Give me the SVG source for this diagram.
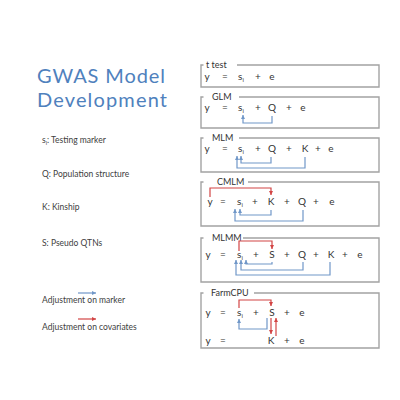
<svg xmlns="http://www.w3.org/2000/svg" width="400" height="400" viewBox="0 0 400 400">
<style>
.title{font-family:Lato,"Liberation Sans",sans-serif;font-size:20px;fill:#4f81bd}
.lbl{font-family:Lato,"Liberation Sans",sans-serif;font-size:8.5px;fill:#404040}
.bl{font-family:Lato,"Liberation Sans",sans-serif;font-size:9px;fill:#333}
.eq{font-family:Lato,"Liberation Sans",sans-serif;font-size:10px;fill:#333;text-anchor:middle}
.sub{font-size:6px}
.frame{fill:none;stroke:#a3a3a3;stroke-width:1.4}
.ba{fill:none;stroke:#7097c8;stroke-width:1.2}
.ra{fill:none;stroke:#d24545;stroke-width:1.2}
</style>
<defs>
<marker id="mb" viewBox="0 0 6 6" refX="6" refY="3" markerWidth="4" markerHeight="4" orient="auto" markerUnits="userSpaceOnUse"><path d="M0,0 L6,3 L0,6 z" fill="#7097c8"/></marker>
<marker id="mr" viewBox="0 0 6 6" refX="6" refY="3" markerWidth="4" markerHeight="4" orient="auto" markerUnits="userSpaceOnUse"><path d="M0,0 L6,3 L0,6 z" fill="#d24545"/></marker>
</defs>
<rect width="400" height="400" fill="#fff"/>

<g id="title">
<text class="title" x="37" y="83" textLength="128" lengthAdjust="spacing">GWAS Model</text>
<text class="title" x="37" y="107" textLength="130" lengthAdjust="spacing">Development</text>
</g>

<g id="legend-terms">
<text class="lbl" x="42" y="143">s<tspan font-size="5.5" dy="1.5">i</tspan><tspan dy="-1.5">: Testing marker</tspan></text>
<text class="lbl" x="42" y="177">Q: Population  structure</text>
<text class="lbl" x="42" y="210">K: Kinship</text>
<text class="lbl" x="42" y="246">S: Pseudo QTNs</text>
</g>

<g id="legend-arrows">
<text class="lbl" x="42" y="303">Adjustment on marker</text>
<text class="lbl" x="42" y="330">Adjustment on covariates</text>
</g>

<g id="box-ttest">
<path class="frame" d="M203.5,65 H201 V87 H379 V65 H237"/>
<text class="bl" x="206" y="67.5">t test</text>
<text class="eq" x="207" y="80">y</text><text class="eq" x="225" y="80">=</text>
<text class="eq" x="241" y="80">s<tspan class="sub" dy="2">i</tspan></text>
<text class="eq" x="258" y="80">+</text><text class="eq" x="272" y="80">e</text>
</g>

<g id="box-glm">
<path class="frame" d="M203.5,97 H201 V128 H379 V97 H239"/>
<text class="bl" x="212" y="99.5">GLM</text>
<text class="eq" x="207" y="111">y</text><text class="eq" x="225" y="111">=</text>
<text class="eq" x="241" y="111">s<tspan class="sub" dy="2">i</tspan></text>
<text class="eq" x="258" y="111">+</text><text class="eq" x="272" y="111">Q</text>
<text class="eq" x="289" y="111">+</text><text class="eq" x="303" y="111">e</text>
</g>

<g id="box-mlm">
<path class="frame" d="M203.5,138 H201 V172 H379 V138 H239"/>
<text class="bl" x="212" y="140.5">MLM</text>
<text class="eq" x="207" y="152">y</text><text class="eq" x="225" y="152">=</text>
<text class="eq" x="241" y="152">s<tspan class="sub" dy="2">i</tspan></text>
<text class="eq" x="258" y="152">+</text><text class="eq" x="272" y="152">Q</text>
<text class="eq" x="289" y="152">+</text><text class="eq" x="305" y="152">K</text>
<text class="eq" x="318" y="152">+</text><text class="eq" x="331" y="152">e</text>
</g>

<g id="box-cmlm">
<path class="frame" d="M203.5,182 H201 V226 H379 V182 H248"/>
<text class="bl" x="217" y="184.5">CMLM</text>
<text class="eq" x="210" y="205">y</text><text class="eq" x="223" y="205">=</text>
<text class="eq" x="240" y="205">s<tspan class="sub" dy="2">i</tspan></text>
<text class="eq" x="255" y="205">+</text><text class="eq" x="271" y="205">K</text>
<text class="eq" x="287" y="205">+</text><text class="eq" x="302" y="205">Q</text>
<text class="eq" x="316" y="205">+</text><text class="eq" x="332" y="205">e</text>
</g>

<g id="box-mlmm">
<path class="frame" d="M203.5,238 H201 V282 H379 V238 H243"/>
<text class="bl" x="212" y="240.5">MLMM</text>
<text class="eq" x="208" y="258">y</text><text class="eq" x="223" y="258">=</text>
<text class="eq" x="240" y="258">s<tspan class="sub" dy="2">i</tspan></text>
<text class="eq" x="256" y="258">+</text><text class="eq" x="272" y="258">S</text>
<text class="eq" x="287" y="258">+</text><text class="eq" x="302" y="258">Q</text>
<text class="eq" x="316" y="258">+</text><text class="eq" x="331" y="258">K</text>
<text class="eq" x="345" y="258">+</text><text class="eq" x="360" y="258">e</text>
</g>

<g id="box-farmcpu">
<path class="frame" d="M203.5,293 H201 V348 H379 V293 H254"/>
<text class="bl" x="211" y="295.5">FarmCPU</text>
<text class="eq" x="208" y="316">y</text><text class="eq" x="223" y="316">=</text>
<text class="eq" x="240" y="316">s<tspan class="sub" dy="2">i</tspan></text>
<text class="eq" x="256" y="316">+</text><text class="eq" x="272" y="316">S</text>
<text class="eq" x="287" y="316">+</text><text class="eq" x="302" y="316">e</text>
<text class="eq" x="208" y="344">y</text><text class="eq" x="223" y="344">=</text>
<text class="eq" x="271" y="344">K</text>
<text class="eq" x="287" y="344">+</text><text class="eq" x="302" y="344">e</text>
</g>

<g id="connectors">
<path class="ba" d="M78,293 H96" marker-end="url(#mb)"/>
<path class="ra" d="M78,319 H96" marker-end="url(#mr)"/>

<path class="ba" d="M272,116 V123 H243 V115" marker-end="url(#mb)"/>

<path class="ba" d="M271,157 V163 H241 V156" marker-end="url(#mb)"/>
<path class="ba" d="M305,157 V168 H237 V156" marker-end="url(#mb)"/>

<path class="ra" d="M210,197 V188 H271 V195" marker-end="url(#mr)"/>
<path class="ba" d="M271,210 V215 H240 V209" marker-end="url(#mb)"/>
<path class="ba" d="M303,210 V221 H235 V209" marker-end="url(#mb)"/>

<path class="ra" d="M239,251 V241 H272 V249" marker-end="url(#mr)"/>
<path class="ba" d="M272,262 V264 H246 V260" marker-end="url(#mb)"/>
<path class="ba" d="M303,262 V270 H241 V260" marker-end="url(#mb)"/>
<path class="ba" d="M330,262 V275 H236 V260" marker-end="url(#mb)"/>

<path class="ra" d="M239,308 V300 H271 V306" marker-end="url(#mr)"/>
<path class="ba" d="M267,318 V329 H239 V319" marker-end="url(#mb)"/>
<path class="ra" d="M271,318 V334" marker-end="url(#mr)"/>
<path class="ra" d="M276,336 V318" marker-end="url(#mr)"/>
</g>
</svg>
